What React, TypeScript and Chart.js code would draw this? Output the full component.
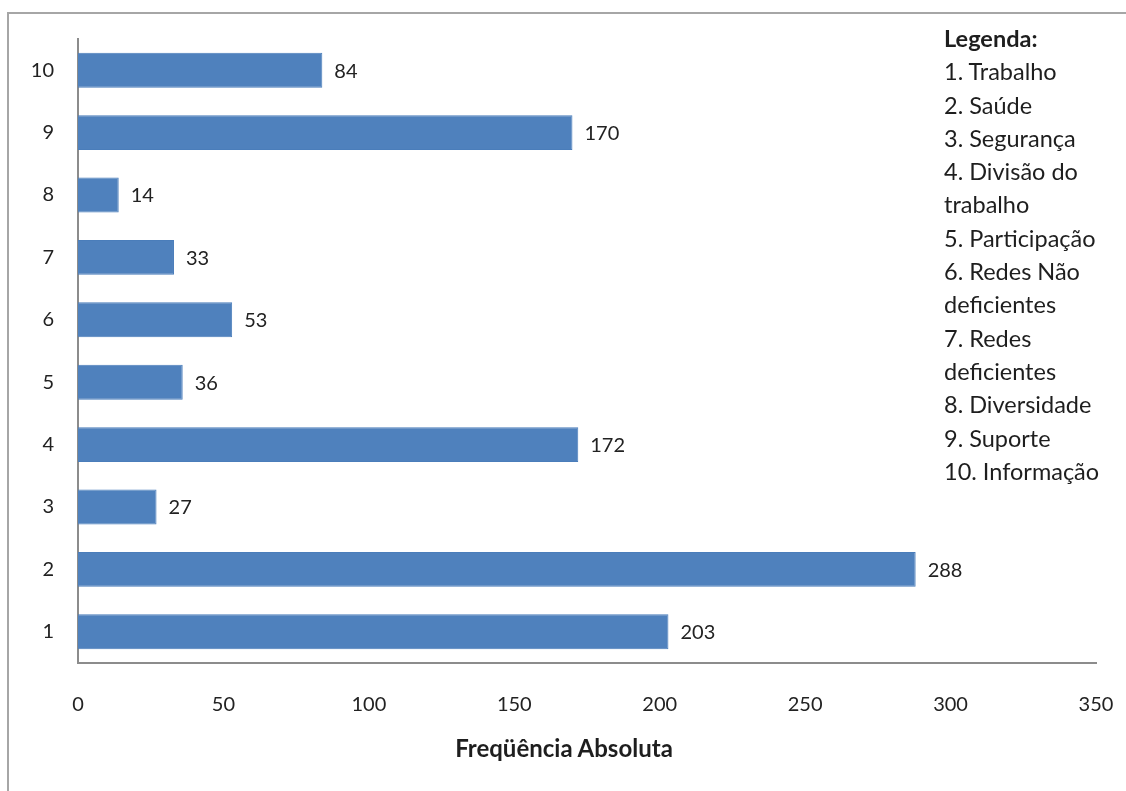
import React, { useEffect, useRef } from "react";
import { Chart, registerables } from "chart.js";

Chart.register(...registerables);

const categories = ["1", "2", "3", "4", "5", "6", "7", "8", "9", "10"];
const values = [203, 288, 27, 172, 36, 53, 33, 14, 170, 84];
const xTicks = [0, 50, 100, 150, 200, 250, 300, 350];
const legendTitle = "Legenda:";
const legendLines = [
  "1. Trabalho",
  "2. Saúde",
  "3. Segurança",
  "4. Divisão do",
  "trabalho",
  "5. Participação",
  "6. Redes Não",
  "deficientes",
  "7. Redes",
  "deficientes",
  "8. Diversidade",
  "9. Suporte",
  "10. Informação",
];
const axisTitle = "Freqüência Absoluta";

const FONT = "Lato, 'Open Sans', sans-serif";
const TEXT = "#222222";

const valueLabels = {
  id: "valueLabels",
  afterDatasetsDraw(chart: any) {
    const ctx = chart.ctx;
    const meta = chart.getDatasetMeta(0);
    ctx.save();
    ctx.font = `20px ${FONT}`;
    ctx.fillStyle = TEXT;
    ctx.textAlign = "left";
    ctx.textBaseline = "middle";
    meta.data.forEach((bar: any, i: number) => {
      ctx.fillText(String(values[i]), bar.x + 12, bar.y + 1);
    });
    ctx.restore();
  },
};

export default function App() {
  const ref = useRef<HTMLCanvasElement>(null);
  useEffect(() => {
    if (!ref.current) return;
    const chart = new Chart(ref.current, {
      type: "bar",
      data: {
        labels: categories,
        datasets: [
          {
            data: values,
            backgroundColor: "#4F81BD",
            borderColor: "#4A7DBA",
            borderWidth: 1,
            categoryPercentage: 1,
            barPercentage: 0.56,
          },
        ],
      },
      options: {
        indexAxis: "y",
        responsive: false,
        animation: false,
        layout: { padding: { left: 0, right: 30, top: 39, bottom: 0 } },
        plugins: { legend: { display: false }, tooltip: { enabled: false } },
        scales: {
          x: {
            min: 0,
            max: 350,
            afterBuildTicks: (s: any) => {
              s.ticks = xTicks.map((v) => ({ value: v }));
            },
            afterFit: (s: any) => {
              s.height = 791 - 663;
              s.paddingLeft = 0;
              s.paddingRight = 0;
            },
            grid: { display: false, drawTicks: false },
            border: { display: true, color: "#8C8C8C", width: 2 },
            ticks: {
              padding: 30,
              color: TEXT,
              font: { family: FONT, size: 20 },
              maxRotation: 0,
            },
          },
          y: {
            reverse: true,
            afterFit: (s: any) => {
              s.width = 78;
              s.paddingTop = 0;
              s.paddingBottom = 0;
            },
            grid: { display: false, drawTicks: false },
            border: { display: true, color: "#8C8C8C", width: 2 },
            ticks: {
              padding: 24,
              color: TEXT,
              font: { family: FONT, size: 20 },
            },
          },
        },
      },
      plugins: [valueLabels],
    });
    return () => chart.destroy();
  }, []);

  return (
    <div style={{ position: "absolute", left: 0, top: 0, width: 1126, height: 791, background: "#fff", overflow: "hidden" }}>
      <div
        style={{
          position: "absolute",
          left: 7,
          top: 12,
          width: 1119,
          height: 779,
          borderLeft: "2px solid #A6A6A6",
          borderTop: "2px solid #A6A6A6",
          boxSizing: "border-box",
        }}
      />
      <canvas ref={ref} width={1126} height={791} style={{ position: "absolute", left: 0, top: 0 }} />
      <div
        style={{
          position: "absolute",
          left: 944,
          top: 22,
          fontFamily: FONT,
          fontSize: 23.5,
          lineHeight: "33.3px",
          color: "#1e1e1e",
          whiteSpace: "nowrap",
        }}
      >
        <div style={{ fontWeight: "bold" }}>{legendTitle}</div>
        {legendLines.map((l, i) => (
          <div key={i}>{l}</div>
        ))}
      </div>
      <div
        style={{
          position: "absolute",
          left: 564,
          top: 733,
          transform: "translateX(-50%)",
          whiteSpace: "nowrap",
          fontFamily: FONT,
          fontSize: 24,
          fontWeight: "bold",
          color: "#1e1e1e",
        }}
      >
        {axisTitle}
      </div>
    </div>
  );
}
